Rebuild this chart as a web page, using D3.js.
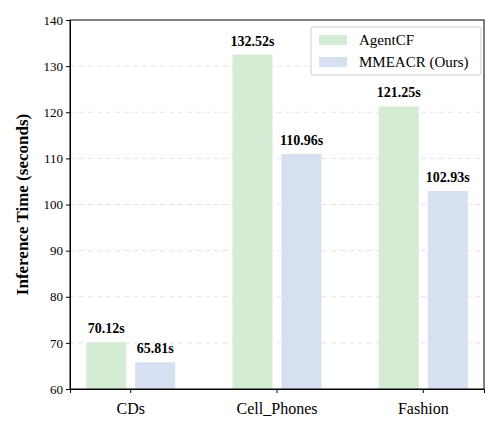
<!DOCTYPE html>
<html><head><meta charset="utf-8">
<script src="https://cdn.jsdelivr.net/npm/d3@7"></script>
<style>body{margin:0;background:#fff}text{font-family:"Liberation Serif","Times New Roman",serif}</style>
</head><body><svg id="c" width="500" height="430"></svg>
<script>
var categories = ["CDs", "Cell_Phones", "Fashion"];
var seriesNames = ["AgentCF", "MMEACR (Ours)"];
var agentcf = [70.12, 132.52, 121.25];
var mmeacr = [65.81, 110.96, 102.93];
var yTicks = [60, 70, 80, 90, 100, 110, 120, 130, 140];
var colors = ["#d5ecd4", "#d6e0f1"];

var margin = {top: 20, right: 16, bottom: 41, left: 70};
var svg = d3.select("#c");
var width = 500 - margin.left - margin.right, height = 430 - margin.top - margin.bottom;
var g = svg.append("g").attr("transform", "translate(" + margin.left + "," + margin.top + ")");

var x = d3.scaleBand().domain(categories).range([0, width]).paddingInner(0.33).paddingOuter(0.08);
var y = d3.scaleLinear().domain([60, 140]).range([height, 0]);
var bw = 40, gap = 9;

g.selectAll(".grid").data(yTicks.slice(1, -1)).enter().append("line")
    .attr("x1", 0).attr("x2", width).attr("y1", y).attr("y2", y)
    .attr("stroke", "#e4e4e4").attr("stroke-dasharray", "5,4");

var series = [agentcf, mmeacr];
series.forEach(function(vals, si) {
    var xo = si === 0 ? -gap / 2 - bw : gap / 2;
    g.selectAll(".b" + si).data(vals).enter().append("rect")
        .attr("x", function(d, i) { return x(categories[i]) + x.bandwidth() / 2 + xo; })
        .attr("y", function(d) { return y(d); })
        .attr("width", bw).attr("height", function(d) { return height - y(d); })
        .attr("fill", colors[si]);
    g.selectAll(".l" + si).data(vals).enter().append("text")
        .attr("x", function(d, i) { return x(categories[i]) + x.bandwidth() / 2 + xo + bw / 2; })
        .attr("y", function(d) { return y(d) - 9; })
        .attr("text-anchor", "middle").attr("font-size", 14).attr("font-weight", "bold")
        .text(function(d) { return d.toFixed(2) + "s"; });
});

var yAxis = g.append("g").call(d3.axisLeft(y).tickValues(yTicks).tickSize(4));
var xAxis = g.append("g").attr("transform", "translate(0," + height + ")").call(d3.axisBottom(x).tickSize(4));
yAxis.selectAll("text").attr("font-size", 13).attr("fill", "#000");
xAxis.selectAll("text").attr("font-size", 16).attr("fill", "#000").attr("dy", "1.1em");
g.append("rect").attr("width", width).attr("height", height).attr("fill", "none").attr("stroke", "#000");

svg.append("text").attr("transform", "translate(28," + (margin.top + height / 2) + ") rotate(-90)")
    .attr("text-anchor", "middle").attr("font-size", 17).attr("font-weight", "bold")
    .text("Inference Time (seconds)");

var lg = g.append("g").attr("transform", "translate(" + (width - 173) + ",7)");
lg.append("rect").attr("width", 170).attr("height", 48).attr("fill", "#fff")
    .attr("stroke", "#ccc").attr("rx", 2);
seriesNames.forEach(function(n, i) {
    lg.append("rect").attr("x", 8).attr("y", 8 + i * 22).attr("width", 28).attr("height", 10).attr("fill", colors[i]);
    lg.append("text").attr("x", 48).attr("y", 18 + i * 22).attr("font-size", 15).text(n);
});
</script></body></html>
